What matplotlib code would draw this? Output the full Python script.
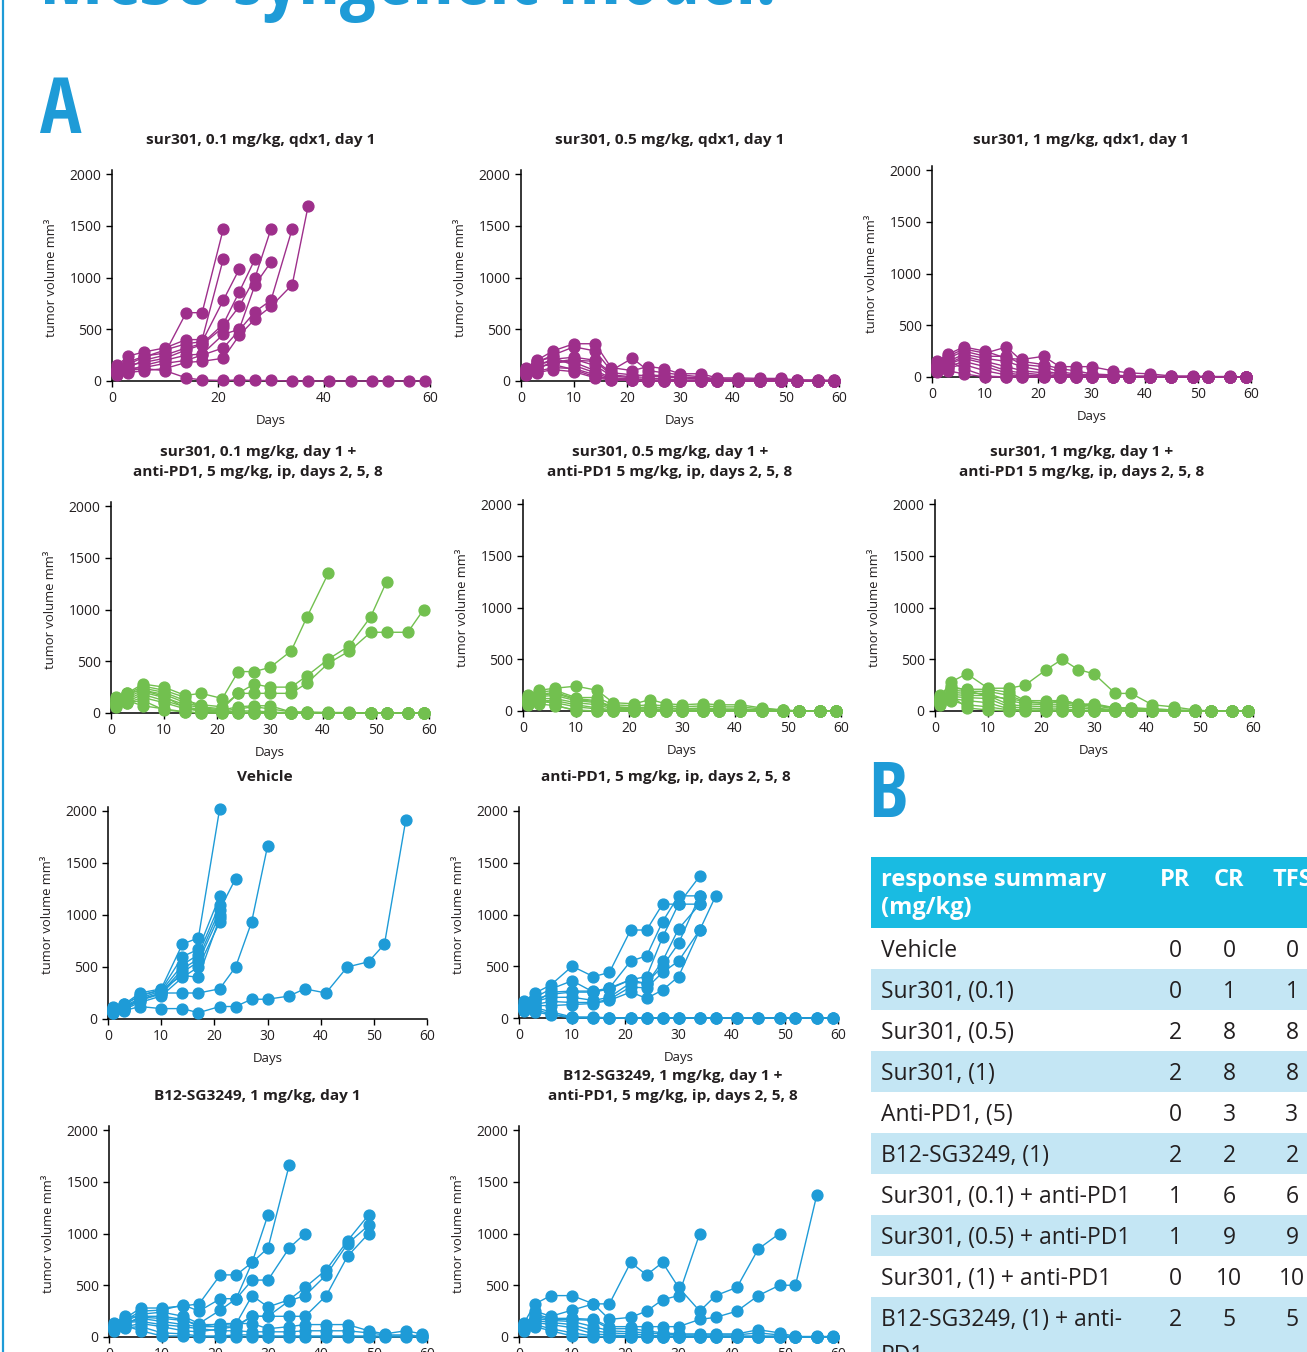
import matplotlib
matplotlib.use("Agg")
import matplotlib.pyplot as plt
from matplotlib import font_manager
from matplotlib.patches import Rectangle
from matplotlib.lines import Line2D

plt.rcParams['font.family'] = ['Open Sans', 'DejaVu Sans']

# ---------------- data ----------------
DAYS = [1, 3, 6, 10, 14, 17, 21, 24, 27, 30, 34, 37, 41, 45, 49, 52, 56, 59]

sur01 = [
    [120, 180, 240, 270, 660, 660, 1470],
    [150, 240, 280, 320, 400, 400, 1180],
    [100, 160, 230, 300, 360, 380, 780, 1080],
    [80, 130, 200, 250, 320, 360, 550, 860, 1180],
    [110, 150, 180, 220, 300, 350, 520, 720, 1000, 1470],
    [60, 100, 150, 200, 250, 260, 450, 500, 930, 1150],
    [90, 120, 130, 170, 200, 250, 320, 490, 670, 780, 1470],
    [70, 80, 100, 120, 180, 190, 220, 440, 600, 720, 930, 1690],
    [130, 100, 120, 100, 30, 10, 5, 10, 5, 5, 0, 0, 0, 0, 0, 0, 0, 0],
]
sur05 = [
    [130, 200, 290, 360, 360, 130, 100, 140, 120, 70, 70, 30, 30, 25, 25, 10, 10, 5],
    [100, 180, 250, 330, 290, 100, 220, 100, 80, 60, 40, 20, 20, 15, 15, 10, 5, 5],
    [90, 150, 210, 230, 200, 80, 60, 50, 40, 30, 20, 10, 10, 5, 5, 0, 0, 0],
    [70, 120, 180, 210, 150, 50, 30, 30, 20, 10, 10, 5, 5, 0, 0, 0, 0, 0],
    [110, 160, 190, 180, 100, 30, 20, 10, 10, 5, 5, 0, 0, 0, 0, 0, 0, 0],
    [120, 190, 230, 150, 80, 20, 10, 5, 5, 0, 0, 0, 0, 0, 0, 0, 0, 0],
    [60, 90, 130, 120, 60, 10, 5, 0, 0, 0, 0, 0, 0, 0, 0, 0, 0, 0],
    [80, 130, 170, 200, 190, 60, 40, 60, 50, 40, 30, 20, 10, 10, 0, 0, 0, 0],
    [100, 140, 160, 110, 40, 20, 10, 5, 0, 0, 0, 0, 0, 0, 0, 0, 0, 0],
    [70, 80, 110, 90, 30, 10, 5, 0, 0, 0, 0, 0, 0, 0, 0, 0, 0, 0],
]
sur1 = [
    [150, 220, 290, 250, 180, 170, 200, 100, 100, 100, 60, 40, 30, 10, 10, 5, 5, 0],
    [130, 200, 270, 230, 290, 150, 120, 80, 60, 30, 20, 10, 10, 5, 0, 0, 0, 0],
    [110, 180, 250, 200, 200, 120, 100, 50, 30, 20, 10, 5, 0, 0, 0, 0, 0, 0],
    [100, 150, 220, 180, 150, 100, 60, 30, 20, 10, 5, 0, 0, 0, 0, 0, 0, 0],
    [90, 130, 200, 150, 100, 60, 40, 20, 10, 5, 0, 0, 0, 0, 0, 0, 0, 0],
    [80, 120, 180, 130, 60, 40, 20, 10, 5, 0, 0, 0, 0, 0, 0, 0, 0, 0],
    [70, 100, 150, 100, 40, 20, 10, 0, 0, 0, 0, 0, 0, 0, 0, 0, 0, 0],
    [60, 90, 120, 60, 20, 10, 5, 0, 0, 0, 0, 0, 0, 0, 0, 0, 0, 0],
    [120, 160, 80, 10, 0, 0, 0, 0, 0, 0, 0, 0, 0, 0, 0, 0, 0, 0],
    [50, 60, 30, 0, 0, 0, 0, 0, 0, 0, 0, 0, 0, 0, 0, 0, 0, 0],
]
sur01_pd1 = [
    [140, 190, 280, 250, 170, 190, 140, 400, 400, 440, 600, 930, 1350],
    [120, 170, 240, 200, 120, 80, 60, 190, 280, 250, 250, 360, 520, 650, 930, 1270],
    [100, 150, 220, 180, 100, 60, 40, 190, 190, 190, 190, 290, 480, 600, 780, 780, 780, 1000],
    [90, 130, 200, 150, 80, 50, 30, 60, 70, 70, 10, 10, 5, 5, 0, 0, 0, 0],
    [80, 110, 180, 120, 60, 30, 20, 40, 60, 40, 10, 5, 0, 0, 0, 0, 0, 0],
    [70, 100, 150, 100, 40, 20, 10, 20, 20, 10, 0, 0, 0, 0, 0, 0, 0, 0],
    [130, 190, 220, 160, 50, 20, 10, 10, 5, 0, 0, 0, 0, 0, 0, 0, 0, 0],
    [60, 100, 120, 30, 10, 0, 0, 0, 0, 0, 0, 0, 0, 0, 0, 0, 0, 0],
    [100, 120, 70, 40, 10, 0, 0, 0, 0, 0, 0, 0, 0, 0, 0, 0, 0, 0],
    [150, 180, 260, 220, 150, 40, 20, 10, 0, 0, 0, 0, 0, 0, 0, 0, 0, 0],
]
sur05_pd1 = [
    [150, 200, 220, 240, 200, 80, 70, 110, 70, 60, 70, 60, 60, 30, 10, 0, 0, 0],
    [130, 180, 200, 130, 130, 60, 50, 60, 50, 40, 50, 40, 40, 20, 10, 0, 0, 0],
    [110, 160, 180, 120, 100, 40, 30, 30, 30, 20, 30, 20, 20, 10, 5, 0, 0, 0],
    [90, 140, 150, 100, 80, 30, 20, 20, 10, 10, 10, 10, 10, 0, 0, 0, 0, 0],
    [80, 120, 120, 80, 60, 20, 10, 10, 5, 0, 0, 0, 0, 0, 0, 0, 0, 0],
    [70, 100, 100, 60, 30, 10, 5, 0, 0, 0, 0, 0, 0, 0, 0, 0, 0, 0],
    [100, 90, 80, 40, 20, 0, 0, 0, 0, 0, 0, 0, 0, 0, 0, 0, 0, 0],
    [60, 70, 50, 10, 0, 0, 0, 0, 0, 0, 0, 0, 0, 0, 0, 0, 0, 0],
    [120, 150, 170, 110, 90, 40, 30, 40, 30, 20, 20, 10, 10, 5, 0, 0, 0, 0],
    [140, 130, 60, 0, 0, 0, 0, 0, 0, 0, 0, 0, 0, 0, 0, 0, 0, 0],
]
sur1_pd1 = [
    [140, 280, 360, 220, 220, 250, 400, 500, 400, 360, 170, 170, 60, 40, 10, 0, 0, 0],
    [120, 220, 210, 210, 180, 100, 100, 100, 70, 60, 30, 30, 20, 10, 5, 0, 0, 0],
    [100, 200, 190, 190, 150, 90, 80, 80, 60, 50, 20, 20, 10, 5, 0, 0, 0, 0],
    [90, 180, 170, 170, 100, 70, 60, 60, 50, 30, 10, 10, 5, 0, 0, 0, 0, 0],
    [80, 160, 150, 150, 60, 50, 40, 40, 30, 20, 5, 0, 0, 0, 0, 0, 0, 0],
    [70, 140, 130, 120, 40, 30, 20, 20, 10, 5, 0, 0, 0, 0, 0, 0, 0, 0],
    [60, 120, 100, 80, 20, 10, 10, 5, 0, 0, 0, 0, 0, 0, 0, 0, 0, 0],
    [110, 100, 60, 40, 10, 5, 0, 0, 0, 0, 0, 0, 0, 0, 0, 0, 0, 0],
    [130, 150, 30, 10, 0, 0, 0, 0, 0, 0, 0, 0, 0, 0, 0, 0, 0, 0],
    [150, 240, 200, 140, 120, 90, 70, 110, 60, 70, 30, 30, 20, 10, 0, 0, 0, 0],
]
vehicle = [
    [120, 140, 250, 290, 720, 780, 2020],
    [100, 130, 230, 280, 600, 670, 1180],
    [90, 120, 200, 270, 520, 620, 1100],
    [80, 110, 190, 250, 480, 580, 1050, 1350],
    [70, 100, 180, 240, 450, 550, 1000],
    [60, 90, 160, 220, 400, 500, 930],
    [110, 140, 220, 280, 420, 400, 970],
    [80, 100, 180, 250, 250, 250, 290, 500, 930, 1660],
    [60, 80, 120, 100, 100, 60, 120, 120, 190, 190, 220, 290, 250, 500, 550, 720, 1910],
]
pd1 = [
    [160, 240, 320, 500, 400, 440, 850, 850, 1100, 1100, 1370],
    [140, 200, 280, 360, 250, 290, 550, 600, 930, 1180, 1180],
    [120, 180, 230, 250, 250, 280, 370, 400, 780, 1100, 1100],
    [100, 160, 200, 200, 170, 200, 340, 340, 500, 720, 1180],
    [80, 130, 160, 150, 150, 180, 300, 290, 440, 550, 850],
    [110, 120, 120, 130, 140, 170, 250, 190, 270, 400, 850, 1180],
    [90, 150, 250, 260, 260, 290, 370, 330, 550, 860, 1100],
    [130, 100, 60, 10, 10, 0, 0, 0, 0, 0, 0, 0, 0, 0, 0, 0, 0, 0],
    [90, 80, 40, 5, 0, 0, 0, 0, 0, 0, 0, 0, 0, 0, 0, 0, 0, 0],
    [70, 60, 30, 0, 0, 0, 0, 0, 0, 0, 0, 0, 0, 0, 0, 0, 0, 0],
]
b12 = [
    [120, 180, 280, 280, 300, 320, 600, 600, 720, 860, 1660],
    [100, 160, 250, 260, 310, 250, 370, 370, 720, 1180],
    [90, 150, 220, 240, 200, 130, 260, 370, 550, 550, 860, 1000],
    [80, 120, 200, 200, 170, 100, 130, 130, 400, 290, 360, 480, 650, 930, 1180],
    [110, 130, 180, 150, 120, 100, 100, 110, 200, 200, 350, 400, 600, 900, 1080],
    [60, 100, 130, 100, 60, 50, 80, 100, 200, 200, 200, 200, 400, 780, 1000],
    [140, 200, 190, 180, 160, 120, 120, 130, 130, 80, 100, 120, 120, 120, 60, 30, 60, 30],
    [100, 140, 150, 120, 100, 80, 60, 60, 50, 50, 50, 60, 60, 60, 40, 20, 20, 10],
    [70, 90, 100, 40, 30, 10, 10, 20, 20, 10, 10, 10, 10, 10, 10, 10, 10, 10],
    [90, 110, 60, 10, 10, 0, 0, 0, 0, 0, 0, 0, 0, 0, 0, 0, 0, 0],
]
b12_pd1 = [
    [140, 320, 400, 400, 320, 320, 720, 600, 720, 480, 250, 400, 480, 850, 1000],
    [100, 250, 200, 260, 320, 170, 190, 250, 360, 400, 1000],
    [120, 220, 180, 180, 170, 100, 100, 100, 100, 100, 170, 190, 250, 400, 500, 500, 1370],
    [110, 200, 170, 170, 160, 80, 80, 60, 40, 30, 30, 30, 30, 70, 40, 5, 5, 5],
    [90, 180, 160, 150, 100, 60, 50, 40, 30, 20, 20, 20, 20, 40, 20, 0, 0, 0],
    [80, 160, 140, 120, 60, 40, 30, 20, 10, 10, 10, 10, 10, 10, 10, 0, 0, 0],
    [70, 140, 120, 90, 30, 20, 10, 5, 0, 0, 0, 0, 0, 0, 0, 0, 0, 0],
    [60, 120, 80, 40, 10, 0, 0, 0, 0, 0, 0, 0, 0, 0, 0, 0, 0, 0],
    [130, 100, 60, 10, 0, 0, 0, 0, 0, 0, 0, 0, 0, 0, 0, 0, 0, 0],
]

TABLE_GROUPS = ["Vehicle", "Sur301, (0.1)", "Sur301, (0.5)", "Sur301, (1)", "Anti-PD1, (5)",
                "B12-SG3249, (1)", "Sur301, (0.1) + anti-PD1", "Sur301, (0.5) + anti-PD1",
                "Sur301, (1) + anti-PD1", "B12-SG3249, (1) + anti-"]
TABLE_PR = [0, 0, 2, 2, 0, 2, 1, 1, 0, 2]
TABLE_CR = [0, 1, 8, 8, 3, 2, 6, 9, 10, 5]
TABLE_TFS = [0, 1, 8, 8, 3, 2, 6, 9, 10, 5]

PURPLE = '#9E2F8B'
GREEN = '#72C04F'
BLUE = '#1E9BD7'
CYAN = '#19BBE2'
LIGHT = '#C4E6F4'
INK = '#231F20'


# ---------------- condensed font for the big headings ----------------
def pick_condensed():
    cands = [('Open Sans Condensed', 'normal'), ('Liberation Sans Narrow', 'normal'),
             ('DejaVu Sans Condensed', 'normal'), ('DejaVu Sans', 'condensed')]
    for fam, st in cands:
        try:
            fp = font_manager.FontProperties(family=fam, weight='bold', stretch=st)
            path = font_manager.findfont(fp, fallback_to_default=False)
            low = path.lower()
            if 'cond' in low or 'narrow' in low:
                return fam, st, True
        except Exception:
            pass
    return 'Open Sans', 'normal', False


HFAM, HST, CONDENSED = pick_condensed()
LETTER_SIZE = 56 if CONDENSED else 46
TITLE_SIZE = 57.5 if CONDENSED else 40

# ---------------- figure ----------------
W, H = 1307, 1352
fig = plt.figure(figsize=(W / 100, H / 100), dpi=100)


def fx(x):
    return x / W


def fy(y):
    return 1 - y / H


panels = [
    (sur01, PURPLE, ["sur301, 0.1 mg/kg, qdx1, day 1"], (261, 140), (112, 430, 381, 174), [0, 20, 40, 60]),
    (sur05, PURPLE, ["sur301, 0.5 mg/kg, qdx1, day 1"], (670, 140), (521, 839, 381, 174), list(range(0, 61, 10))),
    (sur1, PURPLE, ["sur301, 1 mg/kg, qdx1, day 1"], (1081, 140), (932, 1251, 377, 170), list(range(0, 61, 10))),
    (sur01_pd1, GREEN, ["sur301, 0.1 mg/kg, day 1 +", "anti-PD1, 5 mg/kg, ip, days 2, 5, 8"], (258, 452), (111, 429, 713, 506), list(range(0, 61, 10))),
    (sur05_pd1, GREEN, ["sur301, 0.5 mg/kg, day 1 +", "anti-PD1 5 mg/kg, ip, days 2, 5, 8"], (670, 452), (523, 841, 711, 504), list(range(0, 61, 10))),
    (sur1_pd1, GREEN, ["sur301, 1 mg/kg, day 1 +", "anti-PD1 5 mg/kg, ip, days 2, 5, 8"], (1082, 452), (935, 1253, 711, 504), list(range(0, 61, 10))),
    (vehicle, BLUE, ["Vehicle"], (265, 777), (108, 427, 1019, 811), list(range(0, 61, 10))),
    (pd1, BLUE, ["anti-PD1, 5 mg/kg, ip, days 2, 5, 8"], (666, 777), (519, 838, 1018, 811), list(range(0, 61, 10))),
    (b12, BLUE, ["B12-SG3249, 1 mg/kg, day 1"], (257, 1096), (109, 427, 1337, 1130), list(range(0, 61, 10))),
    (b12_pd1, BLUE, ["B12-SG3249, 1 mg/kg, day 1 +", "anti-PD1, 5 mg/kg, ip, days 2, 5, 8"], (673, 1076), (519, 838, 1337, 1130), list(range(0, 61, 10))),
]

for data, color, tlines, (tx, ty), (x0, x60, y0, y2k), xt in panels:
    ax = fig.add_axes([fx(x0), fy(y0), (x60 - x0) / W, (y0 - y2k) / H])
    for m in data:
        ax.plot(DAYS[:len(m)], m, '-o', color=color, ms=7.8, lw=1.0, clip_on=False, zorder=3)
    ax.set_xlim(0, 60)
    ax.set_ylim(0, 2000)
    ax.set_xticks(xt)
    ax.set_yticks([0, 500, 1000, 1500, 2000])
    for s in ['top', 'right']:
        ax.spines[s].set_visible(False)
    for s in ['left', 'bottom']:
        ax.spines[s].set_linewidth(1.1)
        ax.spines[s].set_zorder(1)
    ax.spines['left'].set_bounds(0, 2040)
    ax.tick_params(direction='out', length=4, width=1, labelsize=10, pad=3.5, labelcolor=INK)
    ax.set_xlabel('Days', fontsize=9.5, labelpad=5.5, color=INK)
    ax.set_ylabel('tumor volume mm\u00b3', fontsize=9.4, labelpad=8, color=INK)
    for i, t in enumerate(tlines):
        fig.text(fx(tx), fy(ty + 20 * i), t, ha='center', va='center', fontsize=11.1,
                 fontweight='bold', color=INK)

# page title and panel letters
fig.text(fx(40), fy(4), 'MC38 syngeneic model.', fontsize=TITLE_SIZE, fontweight='bold', color=BLUE,
         family=[HFAM, 'DejaVu Sans'], fontstretch=HST, va='baseline', ha='left')
fig.text(fx(40), fy(133), 'A', fontsize=LETTER_SIZE, fontweight='bold', color=BLUE,
         family=[HFAM, 'DejaVu Sans'], fontstretch=HST, va='baseline', ha='left')
fig.text(fx(868), fy(817), 'B', fontsize=LETTER_SIZE, fontweight='bold', color=BLUE,
         family=[HFAM, 'DejaVu Sans'], fontstretch=HST, va='baseline', ha='left')
fig.add_artist(Line2D([fx(3), fx(3)], [0, 1], color=BLUE, lw=1.6))

# ---------------- table ----------------
TX0 = 871
TFS_SIZE = 16.5
fig.add_artist(Rectangle((fx(TX0), fy(928)), 1 - fx(TX0), 71 / H, color=CYAN, lw=0))
fig.text(fx(881), fy(880), 'response summary', fontsize=17, fontweight='bold', color='white', va='center')
fig.text(fx(881), fy(908), '(mg/kg)', fontsize=17, fontweight='bold', color='white', va='center')
COLX = [1175, 1229, 1292]
for cx, lab in zip(COLX, ['PR', 'CR', 'TFS']):
    fig.text(fx(cx), fy(880), lab, fontsize=17, fontweight='bold', color='white', va='center', ha='center')

for i, (g, pr, cr, tfs) in enumerate(zip(TABLE_GROUPS, TABLE_PR, TABLE_CR, TABLE_TFS)):
    top = 928 + 41 * i
    hgt = 41 if i < len(TABLE_GROUPS) - 1 else H - top
    if i % 2 == 1:
        fig.add_artist(Rectangle((fx(TX0), fy(top + hgt)), 1 - fx(TX0), hgt / H, color=LIGHT, lw=0))
    cy = top + 23
    fig.text(fx(881), fy(cy), g, fontsize=TFS_SIZE, color=INK, va='center')
    for cx, v in zip(COLX, [pr, cr, tfs]):
        fig.text(fx(cx), fy(cy), str(v), fontsize=TFS_SIZE, color=INK, va='center', ha='center')
fig.text(fx(881), fy(1344), 'PD1', fontsize=TFS_SIZE, color=INK, va='top')

fig.savefig('out.png', dpi=100)
